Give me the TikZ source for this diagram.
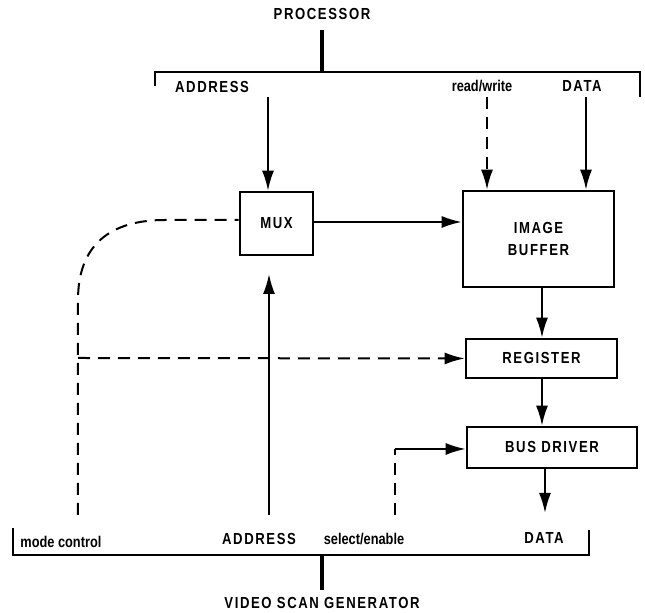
\documentclass[tikz,border=0pt]{standalone}
\usepackage{fontspec}
\setmainfont{Liberation Sans}[FakeStretch=0.82]
\newfontfamily\capsfont{Liberation Sans}[FakeStretch=0.82,LetterSpace=10]
\usetikzlibrary{arrows.meta,positioning}
\begin{document}
\begin{tikzpicture}[x=0.5pt,y=-0.5pt,
  every node/.style={font=\capsfont\bfseries\fontsize{8}{10}\selectfont,align=center,inner sep=0pt},
  blk/.style={draw,line width=1.3pt},
  small/.style={font=\bfseries\fontsize{7.8}{9}\selectfont},
  sig/.style={line width=1pt,-{Latex[length=10pt,width=6pt]}},
  ctl/.style={sig,dash pattern=on 6pt off 4pt},
  bus/.style={line width=1pt},
  stem/.style={line width=2pt}]
\useasboundingbox (0,0) rectangle (645,613);
% processor side
\node (proc) at (322,14) {PROCESSOR};
\coordinate (ptop) at (322,30);
\coordinate (pbus) at (322,72);
\draw[stem] (ptop) -- (pbus);
\draw[bus] (155,86) -- (155,72) -- (640,72) -- (640,97);
\node (paddr) at (212,87) {ADDRESS};
\node[small] (prw) at (482,86) {read/write};
\node (pdata) at (582,86) {DATA};
% blocks
\node[blk,minimum width=36.5pt,minimum height=31.5pt] (mux) at (276.5,223.5) {MUX};
\node[blk,minimum width=75.5pt,minimum height=48pt] (buf) at (538.5,239) {IMAGE\\[1pt]BUFFER};
\node[blk,minimum width=75.5pt,minimum height=19.5pt] (reg) at (541.5,358.5) {REGISTER};
\node[blk,minimum width=85pt,minimum height=20.5pt] (drv) at (552,447.5) {BUS DRIVER};
% video scan generator side
\node (vsg) at (322,603) {VIDEO SCAN GENERATOR};
\coordinate (vbus) at (322,555);
\coordinate (vbot) at (322,590);
\draw[stem] (vbus) -- (vbot);
\draw[bus] (13,528) -- (13,555) -- (589,555) -- (589,530);
\node[small,anchor=west] (vmode) at (20,542) {mode control};
\node (vaddr) at (259,539) {ADDRESS};
\node[small] (vsel) at (364,539) {select/enable};
\node (vdata) at (544,538) {DATA};
% connections
\draw[sig] (268,97) -- (268,0 |- mux.north);
\draw[ctl] (487,97) -- (487,0 |- buf.north);
\draw[sig] (586,97) -- (586,0 |- buf.north);
\draw[sig] (mux.east |- 0,222) -- (buf.west |- 0,222);
\draw[sig] (542,0 |- buf.south) -- (542,0 |- reg.north);
\draw[sig] (542,0 |- reg.south) -- (542,0 |- drv.north);
\draw[sig] (545,0 |- drv.south) -- (545,513);
\draw[sig] (269,515) -- (269,274);
\draw[line width=1pt,dash pattern=on 6pt off 4pt] (78,515) -- (78,300) .. controls (78,245) and (110,220) .. (165,220) -- (mux.west |- 0,220);
\draw[ctl] (78,358) -- (reg.west);
\draw[line width=1pt,dash pattern=on 6pt off 4pt] (395,515) -- (395,449);
\draw[sig] (395,449) -- (drv.west |- 0,449);
\end{tikzpicture}
\end{document}
